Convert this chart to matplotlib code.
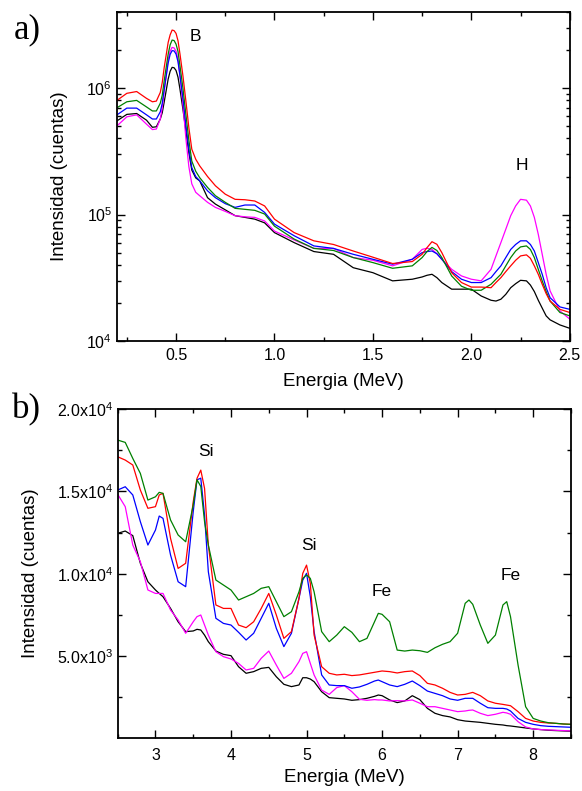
import matplotlib
matplotlib.use("Agg")
import matplotlib.pyplot as plt
from matplotlib.ticker import MultipleLocator, FixedLocator, FixedFormatter, LogLocator, NullFormatter

plt.rcParams['font.family'] = ['Liberation Sans', 'DejaVu Sans']
plt.rcParams['mathtext.fontset'] = 'custom'
plt.rcParams['mathtext.rm'] = 'Liberation Sans'
plt.rcParams['mathtext.it'] = 'Liberation Sans:italic'

# ---------------- panel a) data ----------------
energy_a = [0.20, 0.25, 0.30, 0.35, 0.38, 0.40, 0.42, 0.43, 0.44, 0.46, 0.47, 0.48, 0.49, 0.50,
            0.51, 0.52, 0.535, 0.55, 0.565, 0.58, 0.60, 0.62, 0.66, 0.70, 0.75, 0.80, 0.85, 0.90,
            0.95, 1.00, 1.10, 1.20, 1.30, 1.40, 1.50, 1.60, 1.70, 1.75, 1.775, 1.80, 1.825, 1.85,
            1.90, 1.95, 2.00, 2.05, 2.10, 2.125, 2.15, 2.175, 2.20, 2.225, 2.25, 2.28, 2.30, 2.32,
            2.34, 2.36, 2.38, 2.40, 2.45, 2.50]
red_a = [8.0e5, 9.1e5, 9.4e5, 8.3e5, 7.8e5, 7.9e5, 9.25e5, 1.11e6, 1.46e6, 2.30e6, 2.64e6, 2.88e6, 2.85e6, 2.71e6,
         2.37e6, 1.86e6, 1.25e6, 7.9e5, 4.88e5, 3.29e5, 2.74e5, 2.43e5, 2.0e5, 1.69e5, 1.45e5, 1.32e5, 1.31e5, 1.28e5,
         1.17e5, 9.2e4, 7.2e4, 6.2e4, 5.8e4, 5.15e4, 4.6e4, 4.1e4, 4.25e4, 4.85e4, 5.48e4, 6.1e4, 5.82e4, 5.0e4,
         3.47e4, 2.9e4, 2.67e4, 2.67e4, 2.64e4, 2.9e4, 3.17e4, 3.54e4, 3.93e4, 4.35e4, 4.71e4, 4.8e4, 4.51e4, 3.93e4,
         3.37e4, 2.81e4, 2.37e4, 2.07e4, 1.78e4, 1.68e4]
green_a = [7.0e5, 7.8e5, 8.0e5, 7.1e5, 6.6e5, 6.6e5, 7.6e5, 8.8e5, 1.15e6, 1.86e6, 2.2e6, 2.40e6, 2.38e6, 2.23e6,
           1.95e6, 1.50e6, 1.0e6, 6.2e5, 3.9e5, 2.65e5, 2.2e5, 1.96e5, 1.64e5, 1.41e5, 1.25e5, 1.12e5, 1.1e5, 1.08e5,
           1.01e5, 8.1e4, 6.4e4, 5.4e4, 5.2e4, 4.57e4, 4.17e4, 3.76e4, 3.93e4, 4.57e4, 5.1e4, 5.5e4, 5.2e4, 4.57e4,
           3.27e4, 2.71e4, 2.52e4, 2.52e4, 2.81e4, 3.08e4, 3.37e4, 3.93e4, 4.57e4, 5.15e4, 5.55e4, 5.65e4, 5.3e4, 4.57e4,
           3.69e4, 2.99e4, 2.46e4, 2.07e4, 1.68e4, 1.58e4]
blue_a = [6.15e5, 6.95e5, 6.95e5, 6.15e5, 5.7e5, 5.7e5, 6.5e5, 7.6e5, 9.8e5, 1.58e6, 1.85e6, 1.98e6, 1.97e6, 1.86e6,
          1.62e6, 1.25e6, 8.3e5, 5.1e5, 3.3e5, 2.35e5, 2.0e5, 1.85e5, 1.54e5, 1.36e5, 1.22e5, 1.14e5, 1.19e5, 1.19e5,
          1.04e5, 8.4e4, 6.8e4, 5.65e4, 5.4e4, 4.85e4, 4.43e4, 4.05e4, 4.43e4, 5.0e4, 5.1e4, 5.15e4, 4.9e4, 4.43e4,
          3.54e4, 3.08e4, 2.9e4, 2.9e4, 3.17e4, 3.54e4, 3.93e4, 4.57e4, 5.3e4, 5.8e4, 6.2e4, 6.2e4, 5.8e4, 5.15e4,
          4.17e4, 3.37e4, 2.64e4, 2.2e4, 1.86e4, 1.78e4]
magenta_a = [5.03e5, 5.93e5, 6.15e5, 5.19e5, 4.7e5, 4.75e5, 5.7e5, 7.0e5, 9.5e5, 1.68e6, 1.96e6, 2.10e6, 2.08e6, 1.96e6,
             1.68e6, 1.27e6, 7.5e5, 4.0e5, 2.4e5, 1.75e5, 1.50e5, 1.41e5, 1.25e5, 1.14e5, 1.06e5, 9.8e4, 9.6e4, 9.5e4,
             8.9e4, 7.4e4, 6.3e4, 5.4e4, 5.4e4, 4.57e4, 4.35e4, 3.93e4, 4.43e4, 5.3e4, 5.42e4, 5.3e4, 4.9e4, 4.43e4,
             3.69e4, 3.27e4, 3.08e4, 2.99e4, 3.69e4, 4.71e4, 6.0e4, 7.66e4, 9.8e4, 1.17e5, 1.32e5, 1.30e5, 1.17e5, 9.5e4,
             6.98e4, 4.85e4, 3.37e4, 2.49e4, 1.73e4, 1.49e4]
black_a = [5.51e5, 6.2e5, 6.3e5, 5.58e5, 4.9e5, 4.95e5, 5.7e5, 6.4e5, 7.8e5, 1.18e6, 1.36e6, 1.46e6, 1.45e6, 1.38e6,
           1.22e6, 9.8e5, 6.8e5, 4.6e5, 3.1e5, 2.25e5, 1.95e5, 1.85e5, 1.36e5, 1.21e5, 1.09e5, 9.8e4, 9.5e4, 9.2e4,
           8.6e4, 7.2e4, 6.0e4, 5.1e4, 4.85e4, 3.8e4, 3.47e4, 2.99e4, 3.08e4, 3.21e4, 3.31e4, 3.37e4, 3.17e4, 2.9e4,
           2.57e4, 2.57e4, 2.57e4, 2.27e4, 2.1e4, 2.07e4, 2.14e4, 2.34e4, 2.64e4, 2.84e4, 3.02e4, 2.99e4, 2.77e4, 2.46e4,
           2.1e4, 1.82e4, 1.58e4, 1.47e4, 1.34e4, 1.26e4]

# ---------------- panel b) data ----------------
energy_b = [2.5, 2.6, 2.7, 2.8, 2.9, 3.0, 3.05, 3.1, 3.2, 3.3, 3.4, 3.5, 3.55, 3.6, 3.65, 3.7,
            3.8, 3.9, 4.0, 4.1, 4.2, 4.3, 4.4, 4.5, 4.6, 4.7, 4.8, 4.9, 4.95, 5.0, 5.05, 5.1,
            5.2, 5.3, 5.4, 5.5, 5.6, 5.7, 5.8, 5.9, 5.95, 6.0, 6.1, 6.2, 6.3, 6.4, 6.5, 6.6,
            6.7, 6.8, 6.9, 7.0, 7.1, 7.15, 7.2, 7.3, 7.4, 7.5, 7.6, 7.65, 7.7, 7.8, 7.9, 8.0,
            8.1, 8.2, 8.3, 8.4, 8.5]
green_b = [18115, 17973, 17000, 16090, 14470, 14670, 14940, 14875, 13260, 12350, 11940, 14170, 15700, 15300, 13160, 11740,
           9614, 9310, 9007, 8400, 8600, 8800, 9110, 9210, 8300, 7390, 7690, 8900, 9715, 9920, 9715, 8900,
           6480, 5870, 6270, 6780, 6436, 5870, 6070, 7080, 7590, 7530, 7080, 5360, 5300, 5360, 5320, 5220,
           5500, 5710, 5870, 6380, 8200, 8400, 8140, 6880, 5770, 6270, 8100, 8300, 7390, 4450, 1920, 1210,
           1050, 950, 910, 870, 850]
red_b = [17100, 16900, 16600, 15080, 13970, 14070, 14780, 14880, 12140, 10320, 10630, 14370, 15790, 16290, 15180, 11740,
         8100, 7890, 7890, 6880, 6720, 7080, 7890, 8800, 7490, 6070, 6480, 8500, 10020, 10520, 9410, 6270,
         4350, 3950, 3850, 3890, 3810, 3850, 3930, 4010, 4050, 4090, 4050, 3970, 4050, 4090, 3810, 3340,
         3240, 3040, 2790, 2630, 2670, 2730, 2790, 2590, 2270, 2130, 2060, 2020, 1980, 1620, 1210, 1050,
         970, 930, 910, 870, 850]
blue_b = [15080, 15280, 14780, 13160, 11740, 12650, 13500, 13360, 11130, 9510, 9210, 13760, 15700, 15800, 13560, 10120,
          7290, 6980, 6880, 6440, 5970, 6380, 7290, 8200, 6680, 5570, 6380, 8500, 9610, 10020, 8600, 6480,
          3850, 3240, 3200, 3200, 3040, 3120, 3280, 3480, 3540, 3440, 3240, 3140, 3280, 3480, 3200, 2870,
          2730, 2590, 2390, 2310, 2430, 2430, 2430, 2130, 1860, 1820, 1820, 1780, 1660, 1210, 970, 850,
          770, 730, 710, 690, 670]
magenta_b = [14820, 14070, 11740, 10730, 9010, 8800, 8800, 8800, 7790, 7190, 6380, 7080, 7390, 7490, 6880, 6270,
             5260, 4960, 4820, 4550, 4150, 4250, 4860, 5300, 4450, 3640, 3950, 4660, 5160, 5260, 4550, 3850,
             2930, 2670, 3080, 3200, 2830, 2370, 2310, 2350, 2330, 2330, 2270, 2290, 2270, 2330, 2130, 1920,
             1920, 1820, 1720, 1620, 1660, 1700, 1720, 1520, 1380, 1460, 1580, 1540, 1460, 1010, 690, 570,
             530, 510, 490, 470, 450]
black_b = [12450, 12590, 12310, 10630, 9510, 9010, 8800, 8600, 7890, 7080, 6480, 6520, 6620, 6580, 6270, 5870,
           5300, 5100, 5020, 4350, 3950, 4050, 4250, 4310, 3740, 3280, 3140, 3240, 3680, 3680, 3600, 3440,
           2830, 2470, 2430, 2390, 2310, 2350, 2430, 2550, 2630, 2590, 2330, 2170, 2270, 2590, 2350, 1820,
           1520, 1380, 1300, 1130, 1050, 1030, 1010, 970, 910, 850, 810, 770, 750, 690, 630, 570,
           530, 490, 470, 450, 430]

yticks_b = [5000, 10000, 15000, 20000]
yticklabels_b = ['5.0x10$^{3}$', '1.0x10$^{4}$', '1.5x10$^{4}$', '2.0x10$^{4}$']

fig = plt.figure(figsize=(5.82, 7.91), dpi=100)
ax1 = fig.add_axes([0.201, 0.5689, 0.778, 0.4159])
ax2 = fig.add_axes([0.2022, 0.0666, 0.7788, 0.4163])

lw = 0.9
series_a = [(black_a, 'black'), (magenta_a, '#ff00ff'), (blue_a, '#0000ff'), (green_a, '#008000'), (red_a, '#ff0000')]
for vals, c in series_a:
    ax1.plot(energy_a, vals, color=c, lw=lw)
ax1.set_yscale('log')
ax1.set_xlim(0.2, 2.5)
ax1.set_ylim(1e4, 4e6)
ax1.xaxis.set_major_locator(FixedLocator([0.5, 1.0, 1.5, 2.0, 2.5]))
ax1.xaxis.set_minor_locator(FixedLocator([0.25, 0.75, 1.25, 1.75, 2.25]))
ax1.set_xticklabels(['0.5', '1.0', '1.5', '2.0', '2.5'])
ax1.yaxis.set_major_locator(LogLocator(base=10, numticks=10))
ax1.yaxis.set_minor_locator(LogLocator(base=10, subs=range(2, 10), numticks=20))
ax1.yaxis.set_minor_formatter(NullFormatter())
ax1.text(0.597, 2.54e6, 'B', fontsize=12.5, ha='center', va='center')
ax1.text(2.259, 2.43e5, 'H', fontsize=12.5, ha='center', va='center')

series_b = [(black_b, 'black'), (magenta_b, '#ff00ff'), (blue_b, '#0000ff'), (red_b, '#ff0000'), (green_b, '#008000')]
for vals, c in series_b:
    ax2.plot(energy_b, vals, color=c, lw=lw)
ax2.set_xlim(2.5, 8.5)
ax2.set_ylim(0, 20000)
ax2.xaxis.set_major_locator(MultipleLocator(1))
ax2.xaxis.set_minor_locator(MultipleLocator(0.5))
ax2.yaxis.set_major_locator(FixedLocator(yticks_b))
ax2.yaxis.set_major_formatter(FixedFormatter(yticklabels_b))
ax2.yaxis.set_minor_locator(FixedLocator([2500, 7500, 12500, 17500]))
ax2.text(3.673, 17450, 'Si', fontsize=12.5, ha='center', va='center')
ax2.text(5.03, 11740, 'Si', fontsize=12.5, ha='center', va='center')
ax2.text(6.0, 8900, 'Fe', fontsize=12.5, ha='center', va='center')
ax2.text(7.70, 9870, 'Fe', fontsize=12.5, ha='center', va='center')

for ax in (ax1, ax2):
    ax.tick_params(which='both', direction='in', top=True, right=True, labelsize=11.5)
    ax.tick_params(which='major', length=5.5, width=1.0)
    ax.tick_params(which='minor', length=3, width=1.0)
    for s in ax.spines.values():
        s.set_linewidth(1.3)
ax1.tick_params(axis='x', which='major', pad=5)
ax2.tick_params(axis='x', which='major', pad=7)

ax1.set_xlabel('Energia (MeV)', fontsize=13.5, labelpad=7)
ax1.set_ylabel('Intensidad (cuentas)', fontsize=13.5, labelpad=13)
ax2.set_xlabel('Energia (MeV)', fontsize=13.5, labelpad=4)
ax2.set_ylabel('Intensidad (cuentas)', fontsize=13.5, labelpad=13)

fig.text(0.046, 0.962, 'a)', fontsize=25, family=['Liberation Serif'], ha='center', va='center')
fig.text(0.046, 0.482, 'b)', fontsize=25, family=['Liberation Serif'], ha='center', va='center')

fig.savefig('out.png', dpi=100)
